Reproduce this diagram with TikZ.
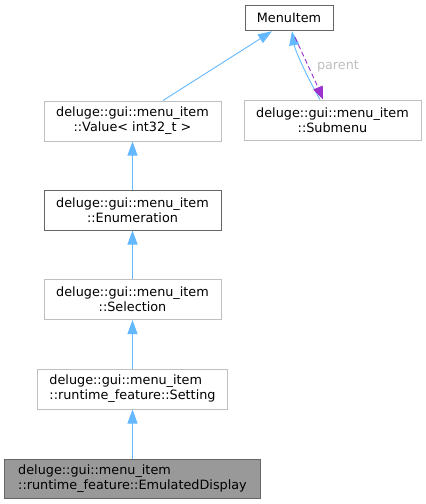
\documentclass[tikz,border=0pt]{standalone}
\usepackage{fontspec}
\setmainfont{DejaVu Sans}
\usetikzlibrary{arrows.meta,calc}
\definecolor{edgeblue}{HTML}{63B8FF}
\definecolor{edgepurple}{HTML}{9A32CD}
\definecolor{boxlight}{HTML}{BFBFBF}
\definecolor{boxdark}{HTML}{666666}
\definecolor{boxfill}{HTML}{999999}
\definecolor{labelgrey}{HTML}{BEBEBE}
\tikzset{
  cls/.style={draw=boxlight, line width=1pt, inner sep=0pt, minimum height=40pt,
    font=\fontsize{12.8}{15}\selectfont, align=center},
  clsdark/.style={cls, draw=boxdark},
  clsleft/.style={cls, align=left},
  clscur/.style={cls, draw=boxdark, fill=boxfill, align=left},
  inh/.style={draw=edgeblue, line width=0.9pt, -{Triangle[length=14pt,width=10pt]}},
  usage/.style={draw=edgepurple, line width=0.9pt, dash pattern=on 5pt off 3pt,
    -{Triangle[length=13pt,width=10pt]}},
  elabel/.style={text=labelgrey, font=\fontsize{12.8}{15}\selectfont, inner sep=0pt}
}
\begin{document}
\begin{tikzpicture}[x=1pt,y=-1pt]
\useasboundingbox (0,0) rectangle (426,504);
\node[clsdark, minimum width=88pt, minimum height=25.5pt] (menuitem) at (289,18) {MenuItem};
\node[cls, minimum width=177pt] (value) at (132.5,121) {deluge::gui::menu\_item\\::Value< int32\_t >};
\node[cls, minimum width=177pt] (submenu) at (332.5,120) {deluge::gui::menu\_item\\::Submenu};
\node[clsdark, minimum width=177pt] (enum) at (132.5,210) {deluge::gui::menu\_item\\::Enumeration};
\node[cls, minimum width=177pt] (selection) at (132.5,299.5) {deluge::gui::menu\_item\\::Selection};
\node[clsleft, minimum width=190pt] (setting) at (132.5,389) {deluge::gui::menu\_item\\::runtime\_feature::Setting};
\node[clscur, minimum width=256pt, minimum height=39pt] (emul) at (132.5,478.5) {deluge::gui::menu\_item\\::runtime\_feature::EmulatedDisplay};

\draw[inh] (value.north) ++(30.5,0) -- ($(menuitem.south)+(-17,0)$);
\draw[inh] (submenu.north) ++(-12.5,0) .. controls (306,75) and (295,50) .. ($(menuitem.south)+(3,0)$);
\draw[usage] ($(menuitem.south)+(6,6)$) .. controls (303,55) and (314,78) .. ($(submenu.north)+(-9.5,0)$);
\node[elabel] (parentlbl) at (338,66) {parent};
\draw[inh] (enum.north) -- (value.south);
\draw[inh] (selection.north) -- (enum.south);
\draw[inh] (setting.north) -- (selection.south);
\draw[inh] (emul.north) -- (setting.south);
\end{tikzpicture}
\end{document}
